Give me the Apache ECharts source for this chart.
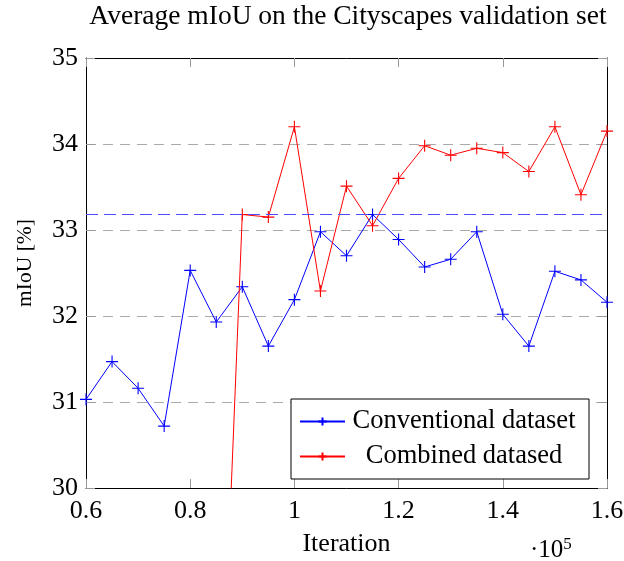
<!DOCTYPE html>
<html>
<head>
<meta charset="utf-8">
<script src="https://cdn.jsdelivr.net/npm/echarts@6/dist/echarts.min.js"></script>
<style>html,body{margin:0;padding:0;background:#fff;}#c{width:624px;height:561px;}</style>
</head>
<body>
<div id="c"></div>
<script>
// Iteration (in units of 10^5)
const iterations = [0.60,0.65,0.70,0.75,0.80,0.85,0.90,0.95,1.00,1.05,1.10,1.15,1.20,1.25,1.30,1.35,1.40,1.45,1.50,1.55,1.60];
const conventional = [31.03,31.47,31.16,30.72,32.53,31.93,32.34,31.65,32.19,32.98,32.70,33.18,32.89,32.57,32.66,32.98,32.02,31.65,32.52,32.42,32.16];
const combined = [null,null,null,null,null,25.7,33.18,33.15,34.20,32.29,33.51,33.05,33.60,33.98,33.87,33.95,33.90,33.68,34.20,33.41,34.15];
const baseline = 33.18;
const seriesNames = ['Conventional dataset','Combined datased'];
const titleText = 'Average mIoU on the Cityscapes validation set';
const xName = 'Iteration';
const yName = 'mIoU [%]';

const FONT = '"Liberation Serif", "DejaVu Serif", serif';
const plus = 'path://M0,-10 L0,10 M-10,0 L10,0';
const pairs = vals => iterations.map((x,i) => [x, vals[i]]);

const chart = echarts.init(document.getElementById('c'), null, {renderer:'canvas'});
const axisCommon = {
  axisLine:{show:true, lineStyle:{color:'#000', width:1}},
  axisTick:{show:true, inside:true, length:9, lineStyle:{color:'#999', width:1}},
};
chart.setOption({
  animation:false,
  backgroundColor:'#fff',
  title:{text:titleText, left:343, top:-2, textAlign:'center',
    textStyle:{fontFamily:FONT, fontWeight:'normal', fontSize:27.5, color:'#000'}},
  grid:{left:86, right:17, top:58, bottom:73, containLabel:false, outerBoundsMode:'none'},
  legend:{
    orient:'vertical', left:291, top:399,
    data:seriesNames,
    backgroundColor:'#fff', borderColor:'#000', borderWidth:1, borderRadius:0,
    padding:[9,11,9,8],
    itemWidth:45, itemHeight:10, itemGap:8,
    formatter: name => '{a|' + name + '}',
    textStyle:{fontFamily:FONT, fontSize:26.5, color:'#000', width:228, overflow:'none',
      rich:{a:{fontFamily:FONT, fontSize:26.5, color:'#000', width:228, align:'center', lineHeight:24}}}
  },
  xAxis:[
    Object.assign({type:'value', min:0.6, max:1.6, interval:0.2, position:'bottom',
      name:xName, nameLocation:'middle', nameGap:43,
      nameTextStyle:{fontFamily:FONT, fontSize:26, color:'#000'},
      axisLabel:{fontFamily:FONT, fontSize:26, color:'#000', margin:10,
        formatter:v => String(+v.toFixed(1))},
      splitLine:{show:false}}, axisCommon),
    Object.assign({type:'value', min:0.6, max:1.6, interval:0.2, position:'top',
      axisLabel:{show:false}, splitLine:{show:false}}, axisCommon)
  ],
  yAxis:[
    Object.assign({type:'value', min:30, max:35, interval:1, position:'left',
      name:yName, nameLocation:'middle', nameGap:50, nameRotate:90,
      nameTextStyle:{fontFamily:FONT, fontSize:21.5, color:'#000', padding:[0,0,0,20]},
      axisLabel:{fontFamily:FONT, fontSize:26, color:'#000', margin:8},
      splitLine:{show:true, lineStyle:{color:'#aaa', type:[10,7], width:1}}}, axisCommon),
    Object.assign({type:'value', min:30, max:35, interval:1, position:'right',
      axisLabel:{show:false}, splitLine:{show:false}}, axisCommon)
  ],
  graphic:[{
    type:'text', left:530, top:536,
    style:{text:'·10{s|5}', fontFamily:FONT, fontSize:25, fill:'#000',
      rich:{s:{fontFamily:FONT, fontSize:17, verticalAlign:'top', padding:[0,0,12,0]}}}
  }],
  series:[
    {name:seriesNames[0], type:'line', data:pairs(conventional),
      symbol:plus, symbolSize:12, showSymbol:true,
      lineStyle:{color:'#0000ff', width:1},
      itemStyle:{color:'#0000ff', borderColor:'#0000ff', borderWidth:1.1},
      z:3,
      markLine:{silent:true, symbol:'none', label:{show:false},
        lineStyle:{color:'#4d4dff', type:[12,6], width:1.2},
        data:[{yAxis:baseline}]}
    },
    {name:seriesNames[1], type:'line', data:pairs(combined),
      symbol:plus, symbolSize:12, showSymbol:true, connectNulls:false,
      lineStyle:{color:'#ff0000', width:1},
      itemStyle:{color:'#ff0000', borderColor:'#ff0000', borderWidth:1.1},
      z:4
    }
  ]
});
</script>
</body>
</html>
